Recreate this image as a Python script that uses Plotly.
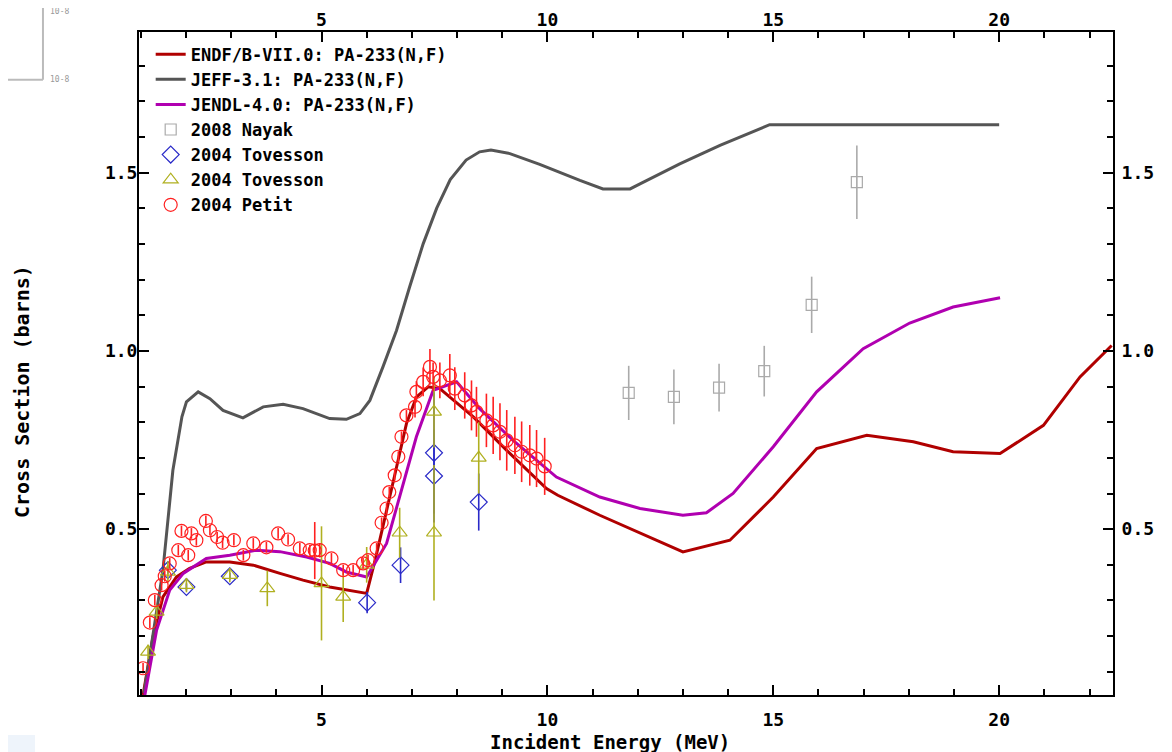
import plotly.graph_objects as go

# ---------------- data ----------------
endf_x = [1.05, 1.27, 1.49, 1.79, 2.08, 2.45, 2.97, 3.49, 4.08, 4.59, 5.18, 6.0, 6.2, 6.36, 6.6, 6.88, 7.1,
          7.36, 7.62, 8.36, 9.1, 9.98, 10.23, 11.16, 13.0, 14.04, 15.0, 15.96, 17.07, 18.1, 18.98, 20.02,
          20.98, 21.79, 22.49]
endf_y = [0.035, 0.198, 0.31, 0.366, 0.39, 0.408, 0.408, 0.399, 0.376, 0.357, 0.338, 0.32, 0.42, 0.506, 0.64,
          0.796, 0.87, 0.899, 0.894, 0.815, 0.721, 0.614, 0.595, 0.539, 0.436, 0.469, 0.59, 0.726, 0.763,
          0.745, 0.717, 0.712, 0.791, 0.927, 1.015]

jeff_x = [1.07, 1.49, 1.71, 1.91, 2.01, 2.27, 2.53, 2.82, 3.26, 3.71, 4.15, 4.59, 5.18, 5.55, 5.85, 6.07,
          6.36, 6.66, 6.95, 7.25, 7.55, 7.85, 8.2, 8.5, 8.75, 9.17, 9.83, 10.28, 10.72, 11.23, 11.83, 12.05,
          12.93, 13.82, 14.92, 20.0]
jeff_y = [0.04, 0.385, 0.665, 0.815, 0.857, 0.885, 0.866, 0.833, 0.812, 0.843, 0.850, 0.838, 0.810, 0.808,
          0.824, 0.861, 0.955, 1.057, 1.179, 1.30, 1.40, 1.48, 1.535, 1.558, 1.563, 1.553, 1.523, 1.50,
          1.478, 1.454, 1.454, 1.468, 1.524, 1.576, 1.634, 1.634]

jendl_x = [1.09, 1.35, 1.64, 1.94, 2.45, 2.97, 3.56, 4.08, 4.67, 5.18, 5.55, 6.0, 6.44, 6.73, 7.10, 7.47,
           7.99, 8.50, 9.24, 10.20, 11.16, 12.05, 13.0, 13.52, 14.11, 15.0, 15.96, 16.99, 18.02, 18.98, 20.02]
jendl_y = [0.035, 0.217, 0.329, 0.376, 0.418, 0.427, 0.441, 0.437, 0.422, 0.404, 0.38, 0.366, 0.46, 0.59,
           0.759, 0.889, 0.913, 0.838, 0.749, 0.646, 0.59, 0.558, 0.539, 0.546, 0.60, 0.731, 0.885, 1.006,
           1.078, 1.123, 1.149]

nayak_x = [11.8, 12.8, 13.8, 14.8, 15.85, 16.85]
nayak_y = [0.882, 0.871, 0.897, 0.943, 1.129, 1.473]
nayak_e = [0.076, 0.077, 0.067, 0.071, 0.079, 0.103]

tov1_x = [1.60, 2.01, 2.97, 6.01, 6.75, 7.49, 7.49, 8.48]
tov1_y = [0.385, 0.338, 0.368, 0.294, 0.399, 0.714, 0.649, 0.576]
tov1_e = [0.01, 0.01, 0.01, 0.03, 0.05, 0.17, 0.13, 0.08]

tov2_x = [1.16, 1.35, 1.60, 2.01, 2.97, 3.80, 5.0, 5.48, 6.0, 6.73, 7.49, 7.49, 8.48]
tov2_y = [0.156, 0.268, 0.38, 0.343, 0.371, 0.334, 0.348, 0.31, 0.40, 0.49, 0.49, 0.829, 0.70]
tov2_e = [0.02, 0.02, 0.03, 0.02, 0.02, 0.05, 0.16, 0.07, 0.05, 0.07, 0.19, 0.1, 0.1]

petit_x = [1.05, 1.20, 1.31, 1.46, 1.53, 1.64, 1.83, 1.90, 2.05, 2.12, 2.23, 2.44, 2.53, 2.69, 2.81, 3.06,
           3.27, 3.49, 3.78, 4.04, 4.26, 4.52, 4.74, 4.85, 4.96, 5.22, 5.48, 5.70, 5.92, 6.03, 6.22, 6.33,
           6.44, 6.50, 6.62, 6.70, 6.77, 6.88, 7.07, 7.10, 7.25, 7.40, 7.47, 7.62, 7.84, 7.95, 8.17, 8.32,
           8.43, 8.65, 8.80, 8.95, 9.10, 9.28, 9.43, 9.61, 9.76, 9.94]
petit_y = [0.11, 0.238, 0.301, 0.343, 0.368, 0.404, 0.441, 0.495, 0.427, 0.488, 0.469, 0.523, 0.497, 0.478,
           0.462, 0.469, 0.427, 0.46, 0.449, 0.488, 0.471, 0.446, 0.441, 0.44, 0.441, 0.418, 0.385, 0.385,
           0.404, 0.413, 0.446, 0.518, 0.558, 0.604, 0.651, 0.703, 0.759, 0.819, 0.843, 0.885, 0.913, 0.955,
           0.927, 0.917, 0.931, 0.894, 0.875, 0.847, 0.829, 0.805, 0.791, 0.773, 0.749, 0.735, 0.717, 0.707,
           0.698, 0.676]
petit_e = [0.015] * 23 + [0.08, 0.02] + [0.015] * 5 + [0.015] * 8 + [0.03, 0.03, 0.04, 0.05, 0.04] + \
          [0.05, 0.06, 0.06, 0.065, 0.07, 0.07, 0.075, 0.08, 0.08, 0.085, 0.08, 0.085, 0.085, 0.08, 0.08]

x_title = "Incident Energy (MeV)"
y_title = "Cross Section (barns)"

x_range = [0.96, 22.52]
y_range = [0.035, 1.894]

FONT = "DejaVu Sans Mono"

fig = go.Figure()

def line_trace(x, y, name, color):
    return go.Scatter(x=x, y=y, mode="lines", name=name,
                      line=dict(color=color, width=3))

def data_trace(x, y, e, name, color, symbol, size):
    return go.Scatter(x=x, y=y, mode="markers", name=name,
                      marker=dict(symbol=symbol, size=size, color=color,
                                  line=dict(color=color, width=1.2)),
                      error_y=dict(type="data", array=e, visible=True, color=color,
                                   thickness=1.6, width=0))

fig.add_trace(line_trace(endf_x, endf_y, "ENDF/B-VII.0: PA-233(N,F)", "#b00000"))
fig.add_trace(line_trace(jeff_x, jeff_y, "JEFF-3.1: PA-233(N,F)", "#555555"))
fig.add_trace(line_trace(jendl_x, jendl_y, "JENDL-4.0: PA-233(N,F)", "#b000b0"))
fig.add_trace(data_trace(nayak_x, nayak_y, nayak_e, "2008 Nayak", "#aaaaaa", "square-open", 11))
fig.add_trace(data_trace(tov1_x, tov1_y, tov1_e, "2004 Tovesson", "#2a2ac8", "diamond-open", 13))
fig.add_trace(data_trace(tov2_x, tov2_y, tov2_e, "2004 Tovesson", "#b0b020", "triangle-up-open", 13))
fig.add_trace(data_trace(petit_x, petit_y, petit_e, "2004 Petit", "#ff2020", "circle-open", 13))
# carrier for the mirrored (top/right) labelled axes
fig.add_trace(go.Scatter(x=[], y=[], xaxis="x2", yaxis="y2", showlegend=False, hoverinfo="skip"))

axis_common = dict(showline=True, linecolor="black", linewidth=2, ticks="inside",
                   tickcolor="black", tickwidth=2, showgrid=False, zeroline=False, automargin=False,
                   tickfont=dict(family=FONT, size=18, color="black", weight="bold"))
minor_x = dict(dtick=1, tick0=0, ticklen=6, ticks="inside", tickcolor="black", tickwidth=1.5)
minor_y = dict(dtick=0.1, tick0=0, ticklen=6, ticks="inside", tickcolor="black", tickwidth=1.5)

# the page body adds an 8 px offset, so the figure is 8 px smaller and margins shifted
fig.update_layout(
    width=1164, height=744,
    margin=dict(l=131, r=59, t=24, b=57, autoexpand=False),
    paper_bgcolor="white", plot_bgcolor="white",
    showlegend=True,
    legend=dict(x=0.012, y=0.993, xanchor="left", yanchor="top",
                bgcolor="rgba(0,0,0,0)", tracegroupgap=0,
                font=dict(family=FONT, size=17, color="black", weight="bold")),
    xaxis=dict(range=x_range, dtick=5, tick0=0, ticklen=10, ticklabelstandoff=7, minor=minor_x,
               **axis_common),
    yaxis=dict(range=y_range, dtick=0.5, tick0=0, tickformat=".1f", ticklen=10, ticklabelstandoff=-4,
               minor=minor_y, **axis_common),
    xaxis2=dict(range=x_range, dtick=5, tick0=0, ticklen=10, overlaying="x", side="top", anchor="y",
                ticklabelstandoff=-3, minor=minor_x, **axis_common),
    yaxis2=dict(range=y_range, dtick=0.5, tick0=0, tickformat=".1f", ticklen=10, overlaying="y",
                side="right", anchor="x", ticklabelstandoff=3, minor=minor_y, **axis_common),
)

# axis titles
fig.add_annotation(xref="paper", yref="paper", x=0.4836, y=-0.0715, text=x_title, showarrow=False,
                   xanchor="center", yanchor="middle",
                   font=dict(family=FONT, size=19, color="black", weight="bold"))
fig.add_annotation(xref="paper", yref="paper", x=-0.1201, y=0.457, text=y_title, showarrow=False,
                   textangle=-90, xanchor="center", yanchor="middle",
                   font=dict(family=FONT, size=20, color="black", weight="bold"))

# small thumbnail remnant at top-left corner and light patch bottom-left
fig.add_shape(type="line", xref="paper", yref="paper", x0=-0.0986, x1=-0.0986, y0=1.04, y1=0.928,
              line=dict(color="#bbbbbb", width=2))
fig.add_shape(type="line", xref="paper", yref="paper", x0=-0.135, x1=-0.0986, y0=0.928, y1=0.928,
              line=dict(color="#bbbbbb", width=2))
for yy in [1.031, 0.928]:
    fig.add_annotation(xref="paper", yref="paper", x=-0.0934, y=yy, text="10-8",
                       showarrow=False, xanchor="left", yanchor="middle",
                       font=dict(family=FONT, size=8, color="#999999"))
fig.add_shape(type="rect", xref="paper", yref="paper", x0=-0.135, x1=-0.1068, y0=-0.0603, y1=-0.086,
              line=dict(width=0), fillcolor="#eef4fb")

fig.write_html("out.html")
